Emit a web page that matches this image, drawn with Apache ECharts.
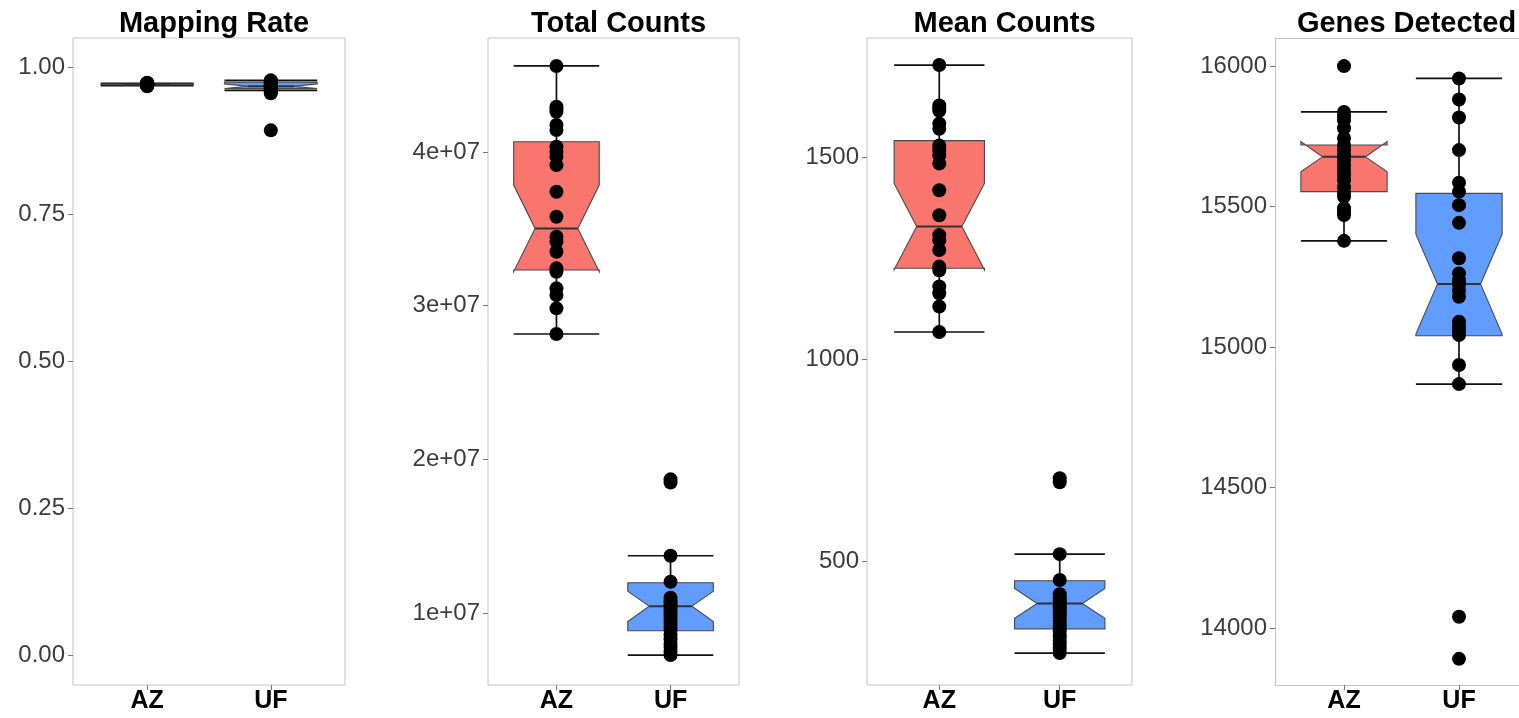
<!DOCTYPE html>
<html><head><meta charset="utf-8">
<script src="https://cdn.jsdelivr.net/npm/echarts@6/dist/echarts.min.js"></script>
<style>html,body{margin:0;padding:0;background:#fff;overflow:hidden}#c{width:1519px;height:718px}</style>
</head><body><div id="c"></div>
<script>
// ---------- DATA ----------
const groups = ['AZ', 'UF'];
const panelTitles = ['Mapping Rate', 'Total Counts', 'Mean Counts', 'Genes Detected'];

const mapTicks = [0, 0.25, 0.5, 0.75, 1.0];
const totalTicks = [1e7, 2e7, 3e7, 4e7];
const meanTicks = [500, 1000, 1500];
const genesTicks = [14000, 14500, 15000, 15500, 16000];

// individual samples (points)
const mapAZ = [0.974, 0.973, 0.973, 0.972, 0.972, 0.972, 0.971, 0.971, 0.971, 0.971, 0.971, 0.971, 0.970, 0.970, 0.970, 0.970, 0.970, 0.969, 0.969, 0.969, 0.968];
const mapUF = [0.978, 0.977, 0.976, 0.975, 0.974, 0.973, 0.972, 0.971, 0.970, 0.969, 0.968, 0.968, 0.967, 0.966, 0.965, 0.964, 0.963, 0.962, 0.960, 0.958, 0.956, 0.893];

const totalAZ = [4.56e7, 4.295e7, 4.28e7, 4.262e7, 4.176e7, 4.143e7, 4.035e7, 4.002e7, 3.969e7, 3.915e7, 3.742e7, 3.579e7, 3.449e7, 3.416e7, 3.351e7, 3.243e7, 3.221e7, 3.113e7, 3.07e7, 2.983e7, 2.816e7];
const totalUF = [1.87e7, 1.85e7, 1.373e7, 1.204e7, 1.10e7, 1.08e7, 1.065e7, 1.05e7, 1.03e7, 1.01e7, 0.99e7, 0.97e7, 0.95e7, 0.93e7, 0.91e7, 0.89e7, 0.86e7, 0.83e7, 0.80e7, 0.78e7, 0.75e7, 0.727e7];

const meanAZ = [1728, 1628, 1622, 1615, 1583, 1570, 1529, 1517, 1504, 1484, 1418, 1356, 1307, 1294, 1270, 1229, 1220, 1180, 1163, 1130, 1067];
const meanUF = [705, 695, 517, 453, 418, 410, 403, 397, 390, 383, 376, 368, 360, 352, 344, 336, 326, 314, 303, 295, 284, 272];

const genesAZ = [16000, 15837, 15822, 15808, 15779, 15744, 15719, 15701, 15683, 15665, 15648, 15630, 15612, 15594, 15569, 15548, 15535, 15494, 15480, 15470, 15378];
const genesUF = [15956, 15881, 15817, 15701, 15585, 15553, 15505, 15442, 15316, 15262, 15238, 15224, 15203, 15179, 15090, 15072, 15058, 15043, 14936, 14868, 14040, 13890];

// box statistics: [whiskerLow, Q1, notchLow, median, notchHigh, Q3, whiskerHigh]
const mapBoxAZ = [0.9690, 0.9705, 0.9708, 0.9710, 0.9712, 0.9715, 0.9730];
const mapBoxUF = [0.961, 0.964, 0.964, 0.968, 0.972, 0.975, 0.978];
const totalBoxAZ = [2.816e7, 3.232e7, 3.221e7, 3.503e7, 3.785e7, 4.067e7, 4.56e7];
const totalBoxUF = [0.727e7, 0.885e7, 0.945e7, 1.045e7, 1.143e7, 1.197e7, 1.373e7];
const meanBoxAZ = [1067, 1225, 1221, 1328, 1435, 1541, 1728];
const meanBoxUF = [272, 332, 358, 395, 432, 451, 517];
const genesBoxAZ = [15378, 15553, 15624, 15677, 15731, 15719, 15837];
const genesBoxUF = [14868, 15040, 15046, 15224, 15402, 15547, 15956];

// axis ranges
const mapRange = [-0.05, 1.05];
const totalRange = [0.532e7, 4.742e7];
const meanRange = [193, 1795];
const genesRange = [13797, 16100];

// ---------- LAYOUT / STYLE ----------
const fills = ['#F8766D', '#619CFF'];
const FONT = 'Liberation Sans';
const BORDER = '#c4c4c4';
const TOP = 38, HEIGHT = 647;
const sciFmt = v => { const e = Math.floor(Math.log10(v) + 1e-9); const m = +(v / Math.pow(10, e)).toFixed(3); return m + 'e+' + String(e).padStart(2, '0'); };

const panels = [
  { az: mapAZ, uf: mapUF, boxAZ: mapBoxAZ, boxUF: mapBoxUF, range: mapRange, ticks: mapTicks, fmt: v => v.toFixed(2), left: 73, width: 272, open: false },
  { az: totalAZ, uf: totalUF, boxAZ: totalBoxAZ, boxUF: totalBoxUF, range: totalRange, ticks: totalTicks, fmt: sciFmt, left: 488, width: 251, open: false },
  { az: meanAZ, uf: meanUF, boxAZ: meanBoxAZ, boxUF: meanBoxUF, range: meanRange, ticks: meanTicks, fmt: v => String(v), left: 867, width: 265, open: false },
  { az: genesAZ, uf: genesUF, boxAZ: genesBoxAZ, boxUF: genesBoxUF, range: genesRange, ticks: genesTicks, fmt: v => String(v), left: 1275, width: 253, open: true }
];

function renderBox(params, api) {
  const x = api.value(0);
  const wl = api.value(1), q1 = api.value(2), nl = api.value(3), med = api.value(4),
        nh = api.value(5), q3 = api.value(6), wh = api.value(7);
  const L = api.coord([x - 0.375, med])[0];
  const R = api.coord([x + 0.375, med])[0];
  const C = api.coord([x, med])[0];
  const Y = v => api.coord([x, v])[1];
  const ind = (R - L) * 0.25;
  const fill = fills[params.dataIndex];
  const blk = { stroke: '#111', lineWidth: 1.7 };
  return {
    type: 'group',
    children: [
      { type: 'line', shape: { x1: C, y1: Y(wl), x2: C, y2: Y(wh) }, style: blk },
      { type: 'line', shape: { x1: L, y1: Y(wh), x2: R, y2: Y(wh) }, style: blk },
      { type: 'line', shape: { x1: L, y1: Y(wl), x2: R, y2: Y(wl) }, style: blk },
      { type: 'polygon', shape: { points: [
          [L, Y(q3)], [L, Y(nh)], [L + ind, Y(med)], [L, Y(nl)], [L, Y(q1)],
          [R, Y(q1)], [R, Y(nl)], [R - ind, Y(med)], [R, Y(nh)], [R, Y(q3)]
        ] }, style: { fill: fill, stroke: '#4a4a4a', lineWidth: 1.1 } },
      { type: 'line', shape: { x1: L + ind, y1: Y(med), x2: R - ind, y2: Y(med) }, style: { stroke: '#333', lineWidth: 2 } }
    ]
  };
}

const xAxes = panels.map((p, i) => ({
  gridIndex: i, type: 'value', min: 0.4, max: 2.6, position: 'bottom',
  splitLine: { show: false },
  axisLine: { show: p.open, onZero: false, lineStyle: { color: BORDER, width: 1 } },
  axisTick: { show: true, customValues: [1, 2], length: 5, lineStyle: { color: '#777', width: 1 } },
  axisLabel: { customValues: [1, 2], formatter: v => groups[Math.round(v) - 1] || '', fontFamily: FONT, fontSize: 25, fontWeight: 'bold', color: '#000', margin: 4 }
}));
// top edge of the open (cut-off) last panel
xAxes.push({
  gridIndex: 3, type: 'value', min: 0.4, max: 2.6, position: 'top',
  splitLine: { show: false }, axisTick: { show: false }, axisLabel: { show: false },
  axisLine: { show: true, onZero: false, lineStyle: { color: BORDER, width: 1 } }
});

const option = {
  animation: false,
  backgroundColor: '#fff',
  title: panels.map((p, i) => ({
    text: panelTitles[i], left: p.left + p.width / 2, top: 4, textAlign: 'center',
    textStyle: { fontFamily: FONT, fontSize: 29, fontWeight: 'bold', color: '#000' }
  })),
  grid: panels.map(p => ({
    left: p.left, top: TOP, width: p.width, height: HEIGHT, show: true,
    borderColor: p.open ? 'rgba(0,0,0,0)' : BORDER, borderWidth: p.open ? 0 : 1,
    backgroundColor: '#fff', outerBoundsMode: 'none', containLabel: false
  })),
  xAxis: xAxes,
  yAxis: panels.map((p, i) => ({
    gridIndex: i, type: 'value', min: p.range[0], max: p.range[1],
    splitLine: { show: false },
    axisLine: { show: p.open, onZero: false, lineStyle: { color: BORDER, width: 1 } },
    axisTick: { show: true, customValues: p.ticks, length: 5, lineStyle: { color: '#777', width: 1 } },
    axisLabel: { customValues: p.ticks, formatter: p.fmt, fontFamily: FONT, fontSize: 24, color: '#3c3c3c', margin: 8 }
  })),
  series: panels.flatMap((p, i) => [
    {
      type: 'custom', xAxisIndex: i, yAxisIndex: i, renderItem: renderBox, z: 2,
      data: [[1].concat(p.boxAZ), [2].concat(p.boxUF)]
    },
    {
      type: 'scatter', xAxisIndex: i, yAxisIndex: i, symbolSize: 14, z: 3,
      itemStyle: { color: '#000', opacity: 1 },
      data: p.az.map(v => [1, v]).concat(p.uf.map(v => [2, v]))
    }
  ])
};

const chart = echarts.init(document.getElementById('c'), null, { renderer: 'canvas' });
chart.setOption(option);
</script>
</body></html>
